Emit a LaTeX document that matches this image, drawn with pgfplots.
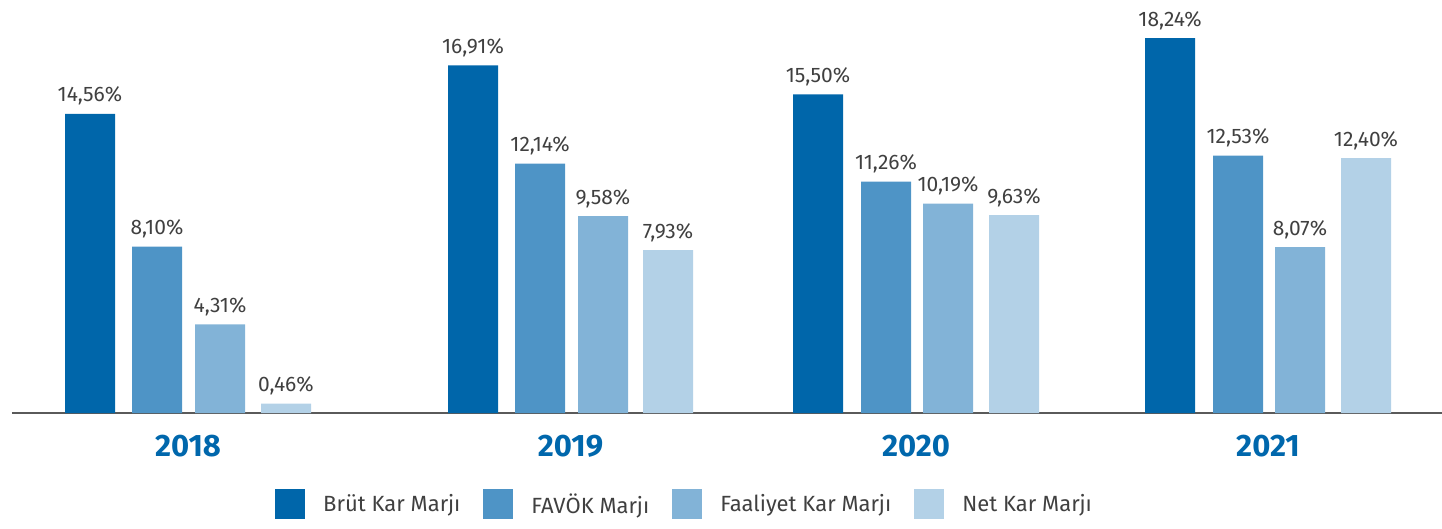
\documentclass[border=0pt]{standalone}
\usepackage{fontspec}
\setmainfont{Fira Sans}
\usepackage{pgfplots}
\pgfplotsset{compat=1.18}

\definecolor{brut}{RGB}{0,102,170}
\definecolor{favok}{RGB}{78,148,198}
\definecolor{faal}{RGB}{130,179,215}
\definecolor{net}{RGB}{179,209,231}
\definecolor{yearblue}{RGB}{0,103,172}
\definecolor{valgray}{RGB}{64,64,64}
\definecolor{axisgray}{RGB}{90,90,90}

\begin{document}
\begin{tikzpicture}
\path[use as bounding box] (0,0) rectangle (1442pt,528pt);
\begin{axis}[
    at={(12pt,115pt)}, anchor=south west,
    scale only axis,
    width=1430pt, height=411pt,
    xmin=12, xmax=1442,
    ymin=0, ymax=20,
    ybar, bar shift=0pt, bar width=50,
    axis x line*=bottom,
    axis y line=none,
    x axis line style={axisgray, line width=1.5pt},
    xtick={188,570.5,916,1268},
    xticklabels={2018,2019,2020,2021},
    major tick length=0pt,
    xticklabel style={font=\fontsize{31}{36}\selectfont\bfseries, text=yearblue,
      anchor=base, yshift=-43pt},
    point meta=explicit symbolic,
    nodes near coords,
    nodes near coords style={font=\fontsize{21}{25}\selectfont, text=valgray,
      anchor=base, yshift=12pt, inner sep=0pt},
    legend image code/.code={\fill[#1] (0pt,-15pt) rectangle (30pt,15pt);},
    legend style={at={(0.4696,-0.2214)}, anchor=center, draw=none, fill=none,
      legend columns=-1, font=\fontsize{22}{26}\selectfont, text=valgray,
      nodes={inner sep=0pt},
      /tikz/every odd column/.append style={column sep=18pt},
      /tikz/every even column/.append style={column sep=23pt}},
  ]
  \addplot[fill=brut, draw=none] coordinates {
    (90,14.56) [14,56\%]
    (473,16.91) [16,91\%]
    (818,15.50) [15,50\%]
    (1170,18.24) [18,24\%]
  };
  \addlegendentry{Brüt Kar Marjı}
  \addplot[fill=favok, draw=none] coordinates {
    (157,8.10) [8,10\%]
    (540,12.14) [12,14\%]
    (886,11.26) [11,26\%]
    (1238,12.53) [12,53\%]
  };
  \addlegendentry{FAVÖK Marjı}
  \addplot[fill=faal, draw=none] coordinates {
    (220,4.31) [4,31\%]
    (603,9.58) [9,58\%]
    (948,10.19) [10,19\%]
    (1300,8.07) [8,07\%]
  };
  \addlegendentry{Faaliyet Kar Marjı}
  \addplot[fill=net, draw=none] coordinates {
    (286,0.46) [0,46\%]
    (668,7.93) [7,93\%]
    (1014,9.63) [9,63\%]
    (1366,12.40) [12,40\%]
  };
  \addlegendentry{Net Kar Marjı}
\end{axis}
\end{tikzpicture}
\end{document}
